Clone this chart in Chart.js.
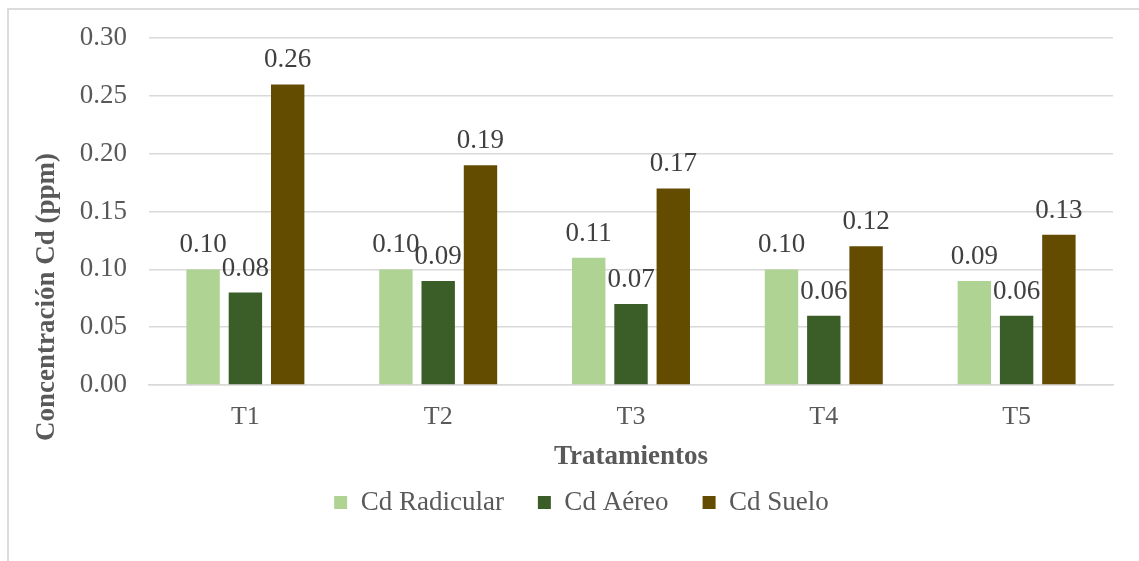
<!DOCTYPE html>
<html>
<head>
<meta charset="utf-8">
<script src="https://cdn.jsdelivr.net/npm/chart.js@4"></script>
<style>
html, body { margin: 0; padding: 0; background: #fff; overflow: hidden; }
#frame { position: absolute; left: 7px; top: 8px; width: 1300px; height: 700px; border-left: 2px solid #dcdcdc; border-top: 2px solid #dcdcdc; }
#chart { position: absolute; left: 0; top: 0; }
</style>
</head>
<body>
<div id="frame"></div>
<canvas id="chart" width="1139" height="561"></canvas>
<script>
const categories = ['T1', 'T2', 'T3', 'T4', 'T5'];
const seriesNames = ['Cd Radicular', 'Cd Aéreo', 'Cd Suelo'];
const cdRadicular = [0.10, 0.10, 0.11, 0.10, 0.09];
const cdAereo = [0.08, 0.09, 0.07, 0.06, 0.06];
const cdSuelo = [0.26, 0.19, 0.17, 0.12, 0.13];
const yMax = 0.30;
const yStep = 0.05;

const serif = '"Liberation Serif", "Times New Roman", serif';

// numbers above each bar
const valueLabels = {
    id: 'valueLabels',
    afterDatasetsDraw(chart) {
        const ctx = chart.ctx;
        ctx.save();
        ctx.font = '27px ' + serif;
        ctx.fillStyle = '#404040';
        ctx.textAlign = 'center';
        ctx.textBaseline = 'alphabetic';
        chart.data.datasets.forEach((ds, i) => {
            chart.getDatasetMeta(i).data.forEach((bar, j) => {
                ctx.fillText(ds.data[j].toFixed(2), bar.x, bar.y - 17);
            });
        });
        ctx.restore();
    }
};

// y title sits lower than the plot middle, as in the original
const yTitle = {
    id: 'yTitle',
    afterDraw(chart) {
        const ctx = chart.ctx;
        ctx.save();
        ctx.translate(47, 297);
        ctx.rotate(-Math.PI / 2);
        ctx.font = 'bold 27px ' + serif;
        ctx.fillStyle = '#595959';
        ctx.textAlign = 'center';
        ctx.textBaseline = 'middle';
        ctx.fillText('Concentración Cd (ppm)', 0, 0);
        ctx.restore();
    }
};

const legendMove = {
    id: 'legendMove',
    afterLayout(chart) {
        const l = chart.legend;
        l.top -= 35; l.bottom -= 35;
        l.left += 25; l.right += 25;
    }
};

new Chart(document.getElementById('chart'), {
    type: 'bar',
    data: {
        labels: categories,
        datasets: [
            { label: seriesNames[0], data: cdRadicular, backgroundColor: '#AFD393' },
            { label: seriesNames[1], data: cdAereo, backgroundColor: '#3B5E28' },
            { label: seriesNames[2], data: cdSuelo, backgroundColor: '#634C00' }
        ]
    },
    options: {
        responsive: false,
        animation: false,
        devicePixelRatio: 1,
        categoryPercentage: 0.658,
        barPercentage: 0.79,
        layout: { padding: { left: 0, right: 26, top: 38, bottom: 0 } },
        scales: {
            x: {
                afterFit: s => { s.height = 105; },
                grid: { display: false },
                border: { color: '#d9d9d9', width: 1.5 },
                ticks: { color: '#595959', font: { family: serif, size: 26 }, padding: 9 },
                title: {
                    display: true,
                    text: 'Tratamientos',
                    color: '#595959',
                    font: { family: serif, size: 27, weight: 'bold' },
                    padding: { top: 0, bottom: 17 }
                }
            },
            y: {
                min: 0,
                max: yMax,
                afterFit: s => { s.width = 149; },
                grid: { color: '#d9d9d9', lineWidth: 1.5, drawTicks: false },
                border: { display: false },
                ticks: {
                    stepSize: yStep,
                    padding: 22,
                    color: '#595959',
                    font: { family: serif, size: 27 },
                    callback: v => v.toFixed(2)
                }
            }
        },
        plugins: {
            tooltip: { enabled: false },
            legend: {
                position: 'bottom',
                labels: {
                    boxWidth: 13,
                    boxHeight: 13,
                    padding: 34,
                    color: '#595959',
                    font: { family: serif, size: 27 }
                }
            }
        }
    },
    plugins: [valueLabels, yTitle, legendMove]
});
</script>
</body>
</html>
